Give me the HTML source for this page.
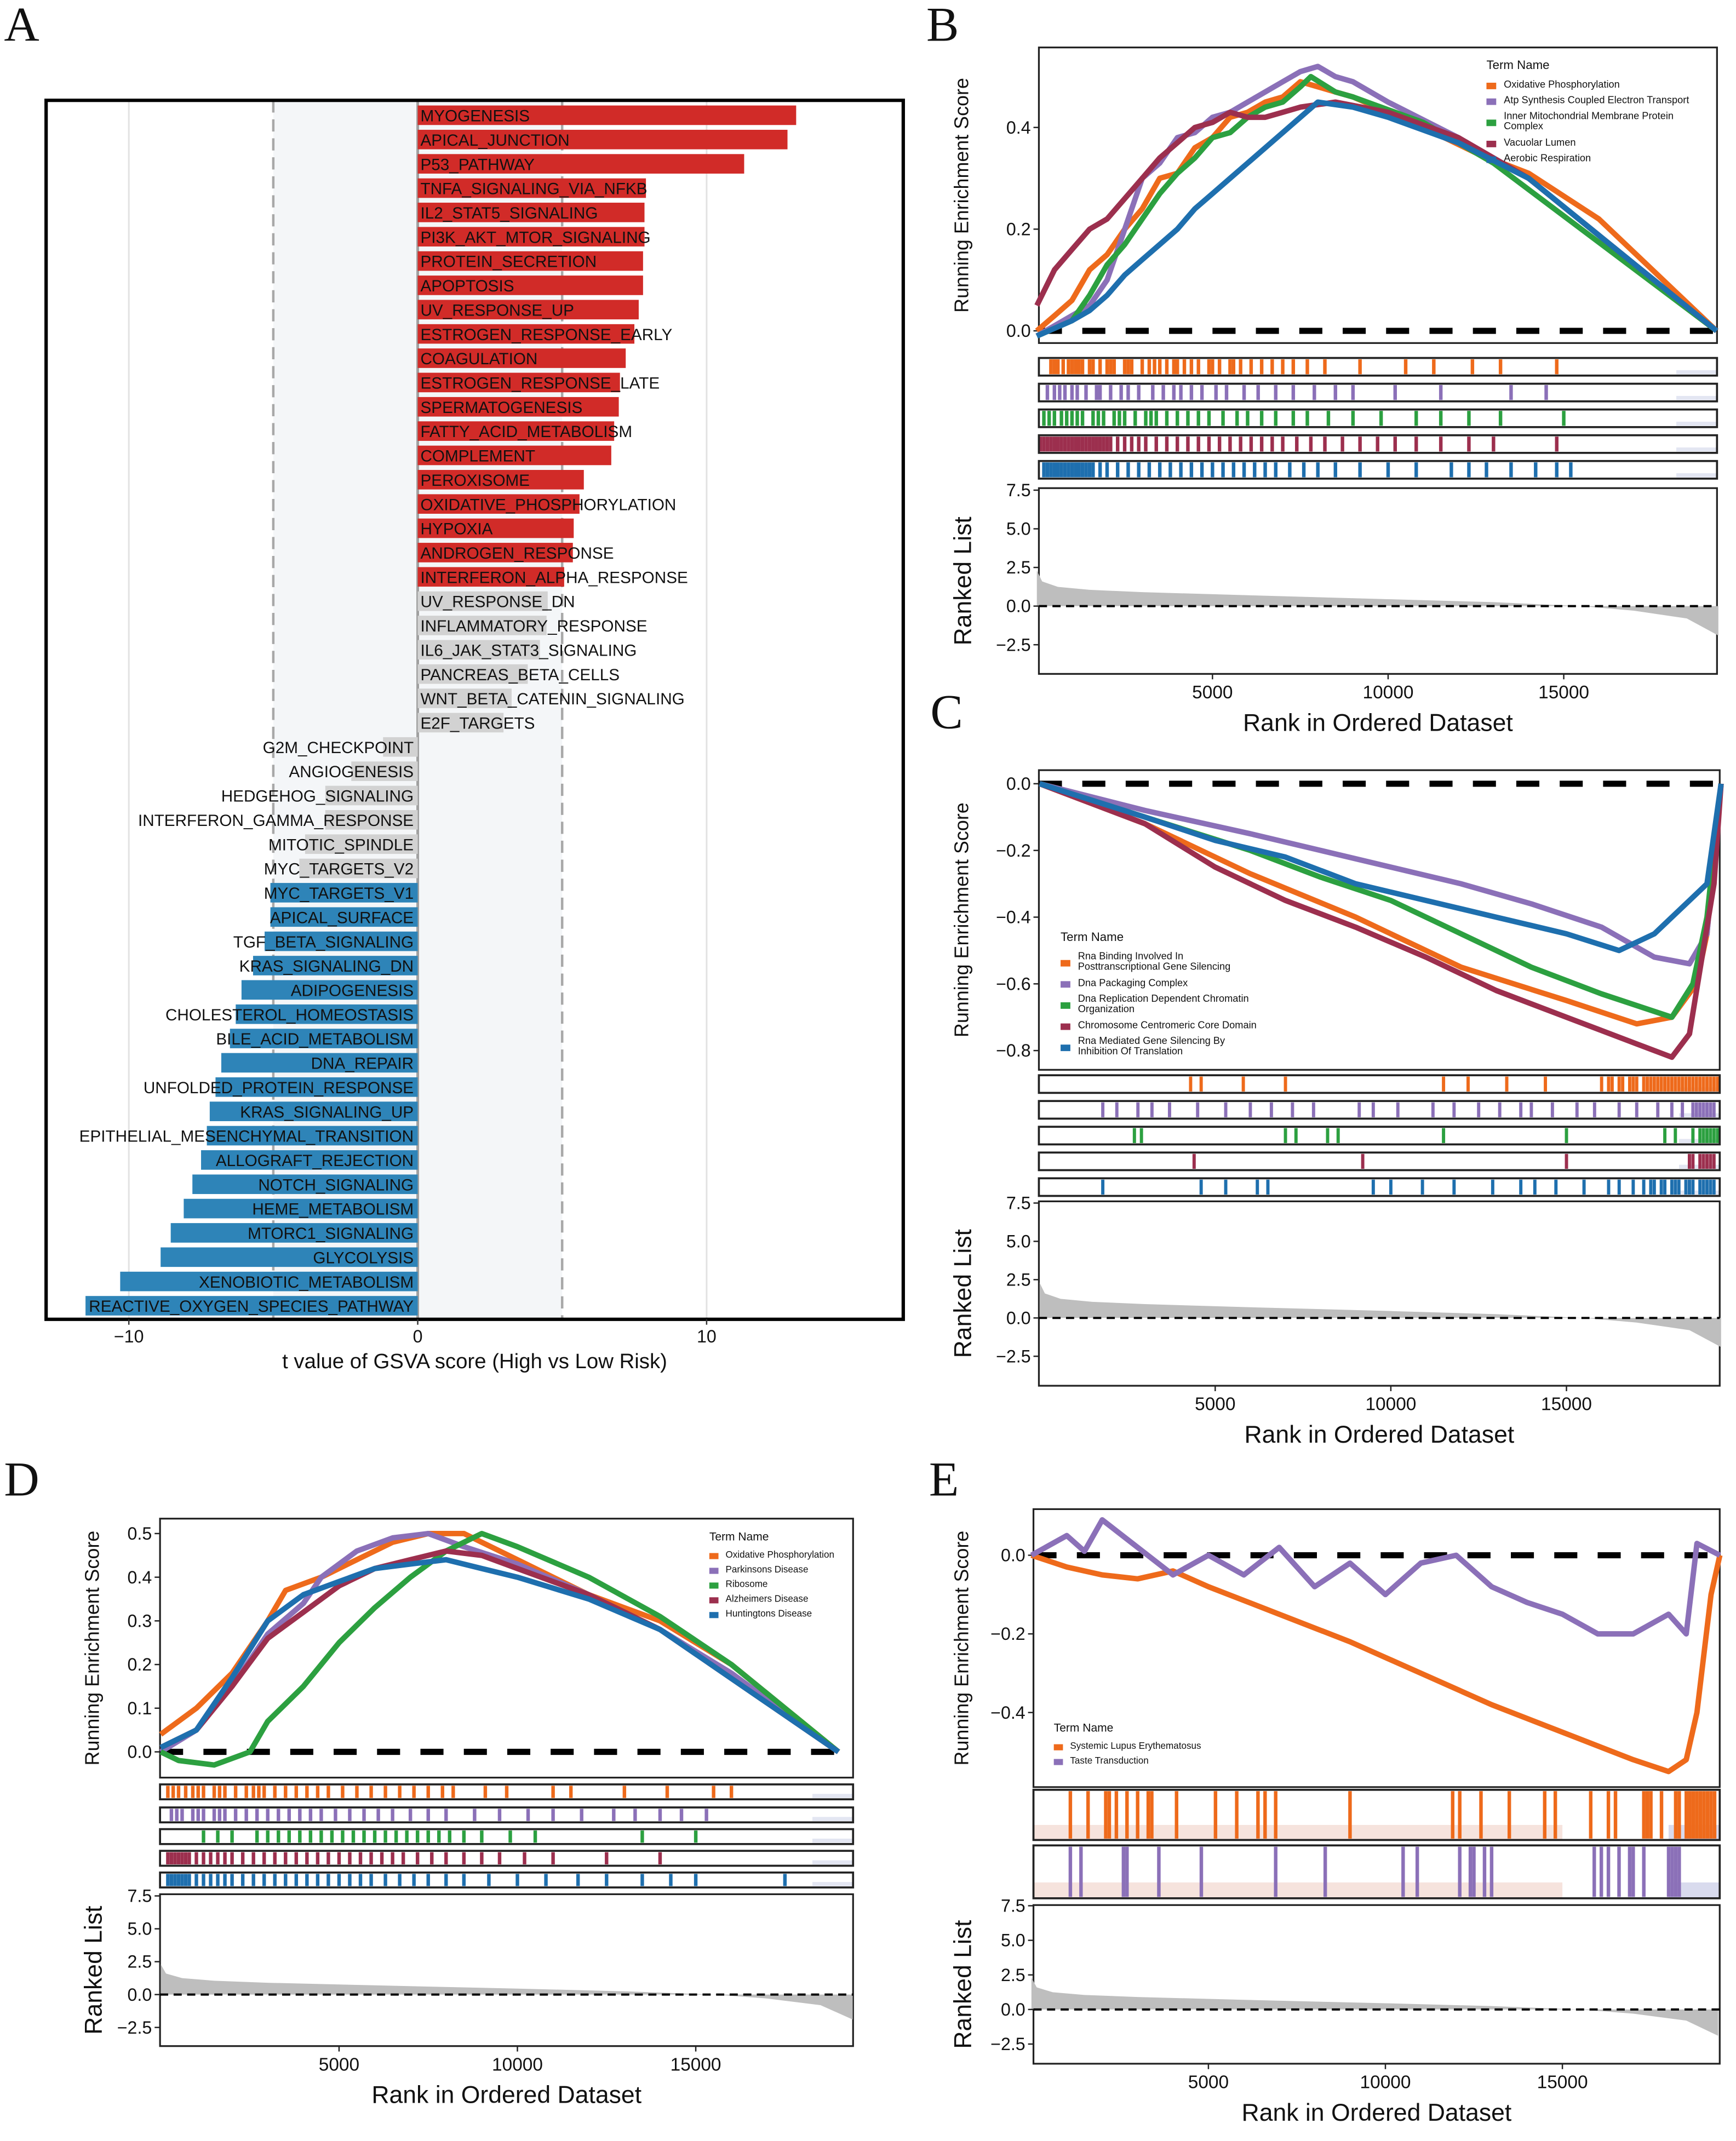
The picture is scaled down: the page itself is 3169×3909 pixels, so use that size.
<!DOCTYPE html>
<html><head><meta charset="utf-8"><style>
html,body{margin:0;padding:0;background:#fff}
svg{display:block}
text{font-family:"Liberation Sans",sans-serif;fill:#111}
</style></head><body>
<svg id="fig" xmlns="http://www.w3.org/2000/svg" width="3169" height="3909" viewBox="0 0 1280 1579" preserveAspectRatio="none"></svg>
<script>
// ---------- Panel A data ----------
const pathways = ["MYOGENESIS","APICAL_JUNCTION","P53_PATHWAY","TNFA_SIGNALING_VIA_NFKB","IL2_STAT5_SIGNALING","PI3K_AKT_MTOR_SIGNALING","PROTEIN_SECRETION","APOPTOSIS","UV_RESPONSE_UP","ESTROGEN_RESPONSE_EARLY","COAGULATION","ESTROGEN_RESPONSE_LATE","SPERMATOGENESIS","FATTY_ACID_METABOLISM","COMPLEMENT","PEROXISOME","OXIDATIVE_PHOSPHORYLATION","HYPOXIA","ANDROGEN_RESPONSE","INTERFERON_ALPHA_RESPONSE","UV_RESPONSE_DN","INFLAMMATORY_RESPONSE","IL6_JAK_STAT3_SIGNALING","PANCREAS_BETA_CELLS","WNT_BETA_CATENIN_SIGNALING","E2F_TARGETS","G2M_CHECKPOINT","ANGIOGENESIS","HEDGEHOG_SIGNALING","INTERFERON_GAMMA_RESPONSE","MITOTIC_SPINDLE","MYC_TARGETS_V2","MYC_TARGETS_V1","APICAL_SURFACE","TGF_BETA_SIGNALING","KRAS_SIGNALING_DN","ADIPOGENESIS","CHOLESTEROL_HOMEOSTASIS","BILE_ACID_METABOLISM","DNA_REPAIR","UNFOLDED_PROTEIN_RESPONSE","KRAS_SIGNALING_UP","EPITHELIAL_MESENCHYMAL_TRANSITION","ALLOGRAFT_REJECTION","NOTCH_SIGNALING","HEME_METABOLISM","MTORC1_SIGNALING","GLYCOLYSIS","XENOBIOTIC_METABOLISM","REACTIVE_OXYGEN_SPECIES_PATHWAY"];
const tValues = [13.1,12.8,11.3,7.9,7.85,7.85,7.8,7.8,7.65,7.5,7.2,7.0,6.96,6.8,6.7,5.75,5.6,5.4,5.37,5.07,4.5,4.46,4.23,3.81,3.25,2.97,-1.2,-2.3,-3.2,-3.2,-3.9,-4.1,-5.1,-5.1,-5.3,-5.7,-6.1,-6.3,-6.5,-6.8,-7.0,-7.2,-7.3,-7.5,-7.8,-8.1,-8.55,-8.9,-10.3,-11.5];
const tTicks = [-10,0,10];

// ---------- GSEA shared ranked list ----------
const rankPos = [0,150,600,1500,3000,6000,10000,13000,15500,17000,18500,19400];
const rankVal = [2.3,1.6,1.25,1.05,0.9,0.7,0.45,0.25,0,-0.3,-0.8,-1.9];
const rankTicks = [5000,10000,15000];
const rlTicks = [7.5,5.0,2.5,0.0,-2.5];

// ---------- Panel B ----------
const termsB = ["Oxidative Phosphorylation","Atp Synthesis Coupled Electron Transport","Inner Mitochondrial Membrane Protein|Complex","Vacuolar Lumen","Aerobic Respiration"];
const bR1=[0,500,1000,1500,2000,2500,3000,3500,4000,4500,5000,5500,6000,6500,7000,7500,8000,8500,9000,10000,11000,12500,14000,16000,19350], bE1=[0,0.03,0.06,0.12,0.15,0.2,0.24,0.3,0.31,0.36,0.38,0.42,0.43,0.45,0.46,0.49,0.48,0.47,0.46,0.43,0.4,0.35,0.31,0.22,0];
const bR2=[0,1000,1500,2000,2500,3000,3500,4000,4500,5000,5500,6000,6500,7000,7500,8000,8500,9000,10000,12000,14000,19350], bE2=[-0.01,0.03,0.05,0.1,0.2,0.3,0.33,0.38,0.39,0.42,0.43,0.45,0.47,0.49,0.51,0.52,0.5,0.49,0.45,0.38,0.3,0];
const bR3=[0,1000,1500,2000,2500,3000,3500,4000,4500,5000,5500,6000,6500,7000,7500,7800,8500,9000,11000,13000,19350], bE3=[-0.01,0.02,0.07,0.13,0.17,0.22,0.27,0.31,0.34,0.38,0.39,0.42,0.44,0.45,0.48,0.5,0.47,0.46,0.41,0.33,0];
const bR4=[0,500,1000,1500,2000,2500,3000,3500,4000,4500,5000,5500,6000,6500,7000,7500,8500,10000,12000,14000,19350], bE4=[0.05,0.12,0.16,0.2,0.22,0.26,0.3,0.34,0.37,0.4,0.41,0.43,0.42,0.42,0.43,0.44,0.45,0.43,0.38,0.3,0];
const bR5=[0,1000,1500,2000,2500,3000,3500,4000,4500,5000,5500,6000,6500,7000,7500,8000,9000,10000,12000,14000,19350], bE5=[-0.01,0.02,0.04,0.07,0.11,0.14,0.17,0.2,0.24,0.27,0.3,0.33,0.36,0.39,0.42,0.45,0.44,0.42,0.37,0.3,0];
const hB1=[400,500,600,750,900,1000,1100,1200,1300,1500,1600,1800,2000,2100,2200,2500,2600,2700,3000,3200,3350,3500,3700,3900,4000,4200,4400,4600,4900,5000,5200,5500,5600,5800,6100,6400,6700,7000,7300,7700,8200,9200,10500,11300,12400,13200,14800];
const hB2=[300,500,650,800,1000,1150,1400,1700,1800,2100,2400,2600,2900,3300,3600,3900,4100,4400,4700,5100,5400,5900,6300,6800,7300,7900,8500,9000,10200,11500,13500,14500];
const hB3=[200,350,500,700,850,1000,1150,1300,1600,1750,1900,2200,2350,2500,2800,3100,3250,3400,3700,4000,4300,4600,4900,5300,5700,6000,6400,6800,7300,7700,8300,9000,9800,10800,11500,12300,13200,15000];
const hB4=[100,200,300,400,500,600,700,800,900,1000,1100,1200,1300,1400,1500,1600,1700,1800,1900,2000,2100,2300,2500,2700,2900,3100,3400,3700,4000,4300,4600,4900,5200,5500,5800,6100,6400,6700,7000,7400,7800,8200,8700,9200,9700,10200,10800,11500,12300,13000,14800];
const hB5=[200,300,400,500,600,700,800,900,1000,1100,1200,1300,1400,1500,1600,1800,2000,2300,2600,2900,3200,3500,3800,4100,4400,4700,5000,5300,5600,5900,6200,6500,6800,7200,7600,8000,8500,9200,10000,10800,11800,12300,12800,13500,14200,14800,15200];
const esTicksB=[0.4,0.2,0.0];

// ---------- Panel C ----------
const termsC = ["Rna Binding Involved In|Posttranscriptional Gene Silencing","Dna Packaging Complex","Dna Replication Dependent Chromatin|Organization","Chromosome Centromeric Core Domain","Rna Mediated Gene Silencing By|Inhibition Of Translation"];
const cR1=[0,3000,6000,9000,12000,15000,17000,18000,18700,19000,19300,19400], cE1=[0,-0.12,-0.27,-0.4,-0.55,-0.65,-0.72,-0.7,-0.6,-0.45,-0.1,0];
const cR2=[0,3000,6000,8000,10000,12000,14000,16000,17500,18500,19000,19400], cE2=[0,-0.08,-0.15,-0.2,-0.25,-0.3,-0.36,-0.43,-0.52,-0.54,-0.45,0];
const cR3=[0,3000,6000,8000,10000,12000,14000,16000,18000,18600,19000,19400], cE3=[0,-0.1,-0.2,-0.28,-0.35,-0.45,-0.55,-0.63,-0.7,-0.6,-0.4,0];
const cR4=[0,3000,5000,7000,9000,11000,13000,15000,17000,18000,18500,19200,19400], cE4=[0,-0.12,-0.25,-0.35,-0.43,-0.52,-0.62,-0.7,-0.78,-0.82,-0.75,-0.3,0];
const cR5=[0,3000,5000,7000,9000,11000,13000,15000,16500,17500,18500,19000,19400], cE5=[0,-0.1,-0.17,-0.22,-0.3,-0.35,-0.4,-0.45,-0.5,-0.45,-0.35,-0.3,0];
const hC1=[4300,4600,5800,7000,11500,12200,13300,14400,16000,16200,16300,16500,16600,16800,16900,17000,17200,17300,17400,17500,17600,17700,17800,17900,18000,18100,18200,18300,18400,18500,18600,18700,18800,18900,19000,19100,19200,19300];
const hC2=[1800,2200,2800,3200,3700,4500,5300,6000,6600,7200,7800,9100,9500,10200,11200,11800,12500,13100,13700,14000,14600,15300,15800,16500,17000,17600,18000,18300,18600,18700,18800,18900,19000,19100,19200];
const hC3=[2700,2900,7000,7300,8200,8500,11500,15000,17800,18100,18600,18800,18900,19000,19100,19200,19300];
const hC4=[4400,9200,15000,18500,18600,18800,18900,19000,19100,19200];
const hC5=[1800,4600,5300,6200,6500,9500,10000,10900,11800,12900,13700,14100,14700,15500,16200,16500,16900,17200,17400,17500,17700,17800,18000,18100,18200,18400,18500,18600,18800,18900,19000,19100,19200];
const esTicksC=[0.0,-0.2,-0.4,-0.6,-0.8];

// ---------- Panel D ----------
const termsD = ["Oxidative Phosphorylation","Parkinsons Disease","Ribosome","Alzheimers Disease","Huntingtons Disease"];
const dR1=[0,1000,2000,3000,3500,4500,5500,6500,7500,8500,10000,12000,14000,16000,19000], dE1=[0.04,0.1,0.18,0.3,0.37,0.4,0.44,0.48,0.5,0.5,0.44,0.36,0.3,0.2,0];
const dR2=[0,1000,2000,3000,4000,4500,5500,6500,7500,8500,10000,12000,14000,16000,19000], dE2=[0,0.05,0.15,0.27,0.34,0.4,0.46,0.49,0.5,0.47,0.43,0.36,0.28,0.18,0];
const dR3=[0,500,1500,2500,3000,4000,5000,6000,7000,8000,9000,10000,12000,14000,16000,19000], dE3=[0,-0.02,-0.03,0,0.07,0.15,0.25,0.33,0.4,0.46,0.5,0.47,0.4,0.31,0.2,0];
const dR4=[0,1000,2000,3000,4000,5000,6000,7000,8000,9000,10000,12000,14000,19000], dE4=[0.01,0.05,0.15,0.26,0.32,0.38,0.42,0.44,0.46,0.45,0.42,0.36,0.28,0];
const dR5=[0,1000,2000,3000,4000,5000,6000,7000,8000,9000,10000,12000,14000,19000], dE5=[0.01,0.05,0.17,0.3,0.36,0.39,0.42,0.43,0.44,0.42,0.4,0.35,0.28,0];
const hD1=[200,350,500,700,900,1050,1200,1500,1650,1800,2100,2400,2600,2750,2900,3200,3500,3800,4100,4400,4700,5100,5500,5900,6300,6700,7100,7500,7900,8200,9100,9700,11000,11500,13000,14200,15500,16000];
const hD2=[300,450,600,900,1050,1200,1500,1650,1800,2100,2400,2700,3000,3300,3600,3900,4200,4500,4900,5300,5700,6100,6500,7000,7500,8000,8800,9500,10300,11000,11800,12700,13300,14000,14600,15300];
const hD3=[1200,1600,2000,2700,3000,3300,3600,3900,4200,4500,4800,5100,5400,5700,6000,6300,6600,6900,7200,7500,7800,8100,8500,9000,9800,10500,13500,15000];
const hD4=[200,300,400,500,600,700,800,1000,1200,1400,1600,1800,2000,2300,2600,2900,3200,3500,3800,4100,4400,4700,5000,5300,5600,5900,6200,6500,6800,7200,7600,8000,8500,9000,9500,10200,11000,12500,14000];
const hD5=[200,300,400,500,600,700,800,1000,1200,1400,1600,1800,2000,2300,2600,2900,3200,3500,3800,4100,4400,4700,5000,5300,5600,5900,6300,6700,7100,7500,8000,8500,9200,10000,10800,11700,12500,13500,14300,15000,17500];
const esTicksD=[0.5,0.4,0.3,0.2,0.1,0.0];

// ---------- Panel E ----------
const termsE = ["Systemic Lupus Erythematosus","Taste Transduction"];
const eR1=[0,1000,2000,3000,4000,5000,7000,9000,11000,13000,15000,17000,18000,18500,18800,19200,19450], eE1=[0,-0.03,-0.05,-0.06,-0.04,-0.08,-0.15,-0.22,-0.3,-0.38,-0.45,-0.52,-0.55,-0.52,-0.4,-0.1,0];
const eR2=[0,1000,1500,2000,3000,4000,5000,6000,7000,8000,9000,10000,11000,12000,13000,14000,15000,16000,17000,18000,18500,18800,19450], eE2=[0,0.05,0.01,0.09,0.02,-0.05,0,-0.05,0.02,-0.08,-0.02,-0.1,-0.02,0,-0.08,-0.12,-0.15,-0.2,-0.2,-0.15,-0.2,0.03,0];
const hE1=[1100,1600,2100,2200,2400,2700,3000,3300,3400,4100,5200,5800,6400,6600,6900,9000,11900,12100,12700,13500,14500,14800,15800,16300,16500,17300,17400,17500,17800,18200,18300,18500,18600,18700,18800,18900,19000,19100,19200,19300];
const hE2=[1100,1400,2600,2700,3600,4800,6900,8300,10500,10900,12100,12400,12500,12800,13000,15900,16100,16300,16600,16900,17000,17300,18000,18100,18200,18300];
const esTicksE=[0.0,-0.2,-0.4];

const COLS=["#EE6A1B","#8B70B8","#2CA040","#9C2F4E","#1E6FAE"];
const NS="http://www.w3.org/2000/svg";
const svg=document.getElementById('fig');
function mk(tag,attrs,parent){const e=document.createElementNS(NS,tag);for(const k in attrs)e.setAttribute(k,attrs[k]);(parent||svg).appendChild(e);return e;}
function txt(s,x,y,size,anchor,parent,extra){const e=mk('text',Object.assign({x:x,y:y,'font-size':size,'text-anchor':anchor||'start'},extra||{}),parent);e.textContent=s;return e;}

// ---------- Panel A ----------
(function(){
  const g=mk('g',{});
  
  
  const L=txt('A',3,30,36,'start',g,{style:'font-family:"Liberation Serif",serif'});
  
  
  const X0=34,X1=666,Y0=74,Y1=973;
  const xs=v=>308+v*21.3;
  const sh=mk('rect',{x:xs(-5),y:Y0,width:xs(5)-xs(-5),height:Y1-Y0,fill:'#F4F6F8'},g);
  
  
  tTicks.forEach(t=>{mk('line',{x1:xs(t),x2:xs(t),y1:Y0,y2:Y1,stroke:t===0?'#A0A0A0':'#E2E2E2','stroke-width':t===0?2:1.2},g);});
  [-5,5].forEach(t=>{const d=mk('line',{x1:xs(t),x2:xs(t),y1:Y0,y2:Y1,stroke:'#A8A8A8','stroke-width':1.8,'stroke-dasharray':'9,5'},g);
    
    });
  const step=(963-85)/(pathways.length-1);
  pathways.forEach((p,i)=>{
    const v=tValues[i],yc=85+i*step;
    const col=v>5?'#D12B28':(v<-5?'#2E84B8':'#D2D2D2');
    const b=mk('rect',{x:Math.min(xs(0),xs(v)),y:yc-7.2,width:Math.abs(xs(v)-xs(0)),height:14.4,fill:col},g);
    
    
    const t=v>=0?txt(p,310,yc+4.5,12,'start',g):txt(p,305,yc+4.5,12,'end',g);
    t.setAttribute('fill','#1b1b24');
    
    
  });
  const fr=mk('rect',{x:X0,y:Y0,width:X1-X0,height:Y1-Y0,fill:'none',stroke:'#000','stroke-width':2.5},g);
  
  
  tTicks.forEach(t=>{mk('line',{x1:xs(t),x2:xs(t),y1:Y1,y2:Y1+4,stroke:'#333','stroke-width':1},g);
    const tl=txt(String(t).replace('-','−'),xs(t),990,13,'middle',g);
    
    });
  const xl=txt('t value of GSVA score (High vs Low Risk)',350,1009,15.5,'middle',g);
  
  
})();

// ---------- GSEA panel builder ----------
function gsea(c){
  const g=mk('g',{});
  
  
  const L=txt(c.letter,c.lx,c.ly,36,'start',g,{style:'font-family:"Liberation Serif",serif'});
  
  
  const xr=r=>c.x0+r*c.k;
  const ye=v=>c.ey0-v*c.es;
  const fr=mk('rect',{x:c.bx0,y:c.ty0,width:c.bx1-c.bx0,height:c.ty1-c.ty0,fill:'#fff',stroke:'#222','stroke-width':1.3},g);
  
  
  c.esTicks.forEach(t=>{mk('line',{x1:c.bx0-4,x2:c.bx0,y1:ye(t),y2:ye(t),stroke:'#222'},g);
    const tl=txt(t.toFixed(1).replace('-','−'),c.bx0-6,ye(t)+4.5,13,'end',g);
    
    });
  const yl=txt('Running Enrichment Score',0,0,14.5,'middle',g,{transform:'translate('+c.ylx+','+((c.ty0+c.ty1)/2)+') rotate(-90)'});
  
  
  const z=mk('line',{x1:c.bx0,x2:c.bx1,y1:ye(0),y2:ye(0),stroke:'#000','stroke-width':4.5,'stroke-dasharray':'17,15'},g);
  
  
  c.curves.forEach((cv,i)=>{
    const pts=cv[0].map((r,j)=>xr(r).toFixed(1)+','+ye(cv[1][j]).toFixed(1)).join(' ');
    const p=mk('polyline',{points:pts,fill:'none',stroke:COLS[c.colIdx[i]],'stroke-width':4,'stroke-linejoin':'round'},g);
    
    
  });
  const lg=mk('g',{},g);
  
  
  txt('Term Name',c.legx,c.legy,c.lfs+1,'start',lg);
  let yy=c.legy+c.lfs*1.6;
  c.terms.forEach((t,i)=>{
    const lines=t.split('|');
    const h=lines.length*c.lfs;
    mk('rect',{x:c.legx,y:yy+h/2-c.lfs*0.35-c.lfs*0.5,width:c.lfs*0.9,height:c.lfs*0.6,fill:COLS[c.colIdx[i]]},lg);
    lines.forEach((ln,j)=>txt(ln,c.legx+c.lfs*1.6,yy+c.lfs*0.1+j*c.lfs*0.95,c.lfs*0.92,'start',lg));
    yy+=h+c.lfs*0.45;
  });
  c.rugs.forEach((ry,i)=>{
    const rg=mk('g',{},g);
    
    
    if(c.shade){
      mk('rect',{x:c.bx0,y:ry[1]-(ry[1]-ry[0])*0.3,width:xr(15000)-c.bx0,height:(ry[1]-ry[0])*0.3,fill:'#F6E3DD'},rg);
      mk('rect',{x:xr(18000),y:ry[1]-(ry[1]-ry[0])*0.3,width:c.bx1-xr(18000),height:(ry[1]-ry[0])*0.3,fill:'#D9DBEE'},rg);
    } else {
      mk('rect',{x:c.bx1-30,y:ry[1]-4,width:30,height:3,fill:'#E3E6F2'},rg);
    }
    c.hits[i].forEach(h=>{const l=mk('line',{x1:xr(h),x2:xr(h),y1:ry[0]+1,y2:ry[1]-1,stroke:COLS[c.colIdx[i]],'stroke-width':c.tw},rg);
      
      });
    mk('rect',{x:c.bx0,y:ry[0],width:c.bx1-c.bx0,height:ry[1]-ry[0],fill:'none',stroke:'#222','stroke-width':1.5},rg);
  });
  const yr=v=>c.r0-v*c.rs;
  const rf=mk('rect',{x:c.bx0,y:c.ry0,width:c.bx1-c.bx0,height:c.ry1-c.ry0,fill:'#fff',stroke:'#222','stroke-width':1.3},g);
  
  
  let d='M'+xr(rankPos[0])+','+yr(0);
  rankPos.forEach((r,j)=>{d+=' L'+xr(r).toFixed(1)+','+yr(rankVal[j]).toFixed(1);});
  d+=' L'+xr(rankPos[rankPos.length-1]).toFixed(1)+','+yr(0)+' Z';
  const a=mk('path',{d:d,fill:'#BEBEBE'},g);
  
  
  mk('line',{x1:c.bx0,x2:c.bx1,y1:yr(0),y2:yr(0),stroke:'#000','stroke-width':1.6,'stroke-dasharray':'6,4'},g);
  rlTicks.forEach(t=>{mk('line',{x1:c.bx0-4,x2:c.bx0,y1:yr(t),y2:yr(t),stroke:'#222'},g);
    const tl=txt(t.toFixed(1).replace('-','−'),c.bx0-6,yr(t)+4.5,13,'end',g);
    
    });
  rankTicks.forEach(t=>{mk('line',{x1:xr(t),x2:xr(t),y1:c.ry1,y2:c.ry1+4,stroke:'#222'},g);
    const tl=txt(String(t),xr(t),c.ry1+18,13.5,'middle',g);
    
    });
  const xl=txt('Rank in Ordered Dataset',(c.bx0+c.bx1)/2,c.ry1+42,18,'middle',g);
  
  
  const rl=txt('Ranked List',0,0,18,'middle',g,{transform:'translate('+(c.ylx+2)+','+((c.ry0+c.ry1)/2)+') rotate(-90)'});
  
  
}

gsea({name:'panel-b-gsea',letter:'B',lx:683,ly:30,bx0:766,bx1:1266,x0:764.5,k:0.0259,ty0:35,ty1:253,ey0:244,es:375,esTicks:esTicksB,ylx:714,
  curves:[[bR1,bE1],[bR2,bE2],[bR3,bE3],[bR4,bE4],[bR5,bE5]],colIdx:[0,1,2,3,4],terms:termsB,legx:1096,legy:51,lfs:8,
  rugs:[[264,277],[283,296],[302,315],[321,334],[340,353]],hits:[hB1,hB2,hB3,hB4,hB5],tw:2.6,
  ry0:360,ry1:497,r0:447,rs:11.4});
gsea({name:'panel-c-gsea',letter:'C',lx:686,ly:537,bx0:766,bx1:1268,x0:766.5,k:0.0259,ty0:568,ty1:789,ey0:578,es:246,esTicks:esTicksC,ylx:714,
  curves:[[cR1,cE1],[cR2,cE2],[cR3,cE3],[cR4,cE4],[cR5,cE5]],colIdx:[0,1,2,3,4],terms:termsC,legx:782,legy:694,lfs:8,
  rugs:[[793,806],[812,825],[831,844],[850,863],[869,882]],hits:[hC1,hC2,hC3,hC4,hC5],tw:2.4,
  ry0:886,ry1:1022,r0:972,rs:11.3});
gsea({name:'panel-d-gsea',letter:'D',lx:3,ly:1103,bx0:118,bx1:629,x0:118.5,k:0.0263,ty0:1120,ty1:1311,ey0:1292,es:322,esTicks:esTicksD,ylx:73,
  curves:[[dR1,dE1],[dR2,dE2],[dR3,dE3],[dR4,dE4],[dR5,dE5]],colIdx:[0,1,2,3,4],terms:termsD,legx:523,legy:1136,lfs:7.5,
  rugs:[[1316,1327],[1333,1344],[1349,1360],[1365,1376],[1381,1392]],hits:[hD1,hD2,hD3,hD4,hD5],tw:2.6,
  ry0:1397,ry1:1509,r0:1471,rs:9.7});
gsea({name:'panel-e-gsea',letter:'E',lx:685,ly:1103,bx0:762,bx1:1268,x0:760.5,k:0.0261,ty0:1113,ty1:1318,ey0:1147,es:290,esTicks:esTicksE,ylx:714,
  curves:[[eR1,eE1],[eR2,eE2]],colIdx:[0,1],terms:termsE,legx:777,legy:1277,lfs:7.5,shade:true,
  rugs:[[1320,1357],[1361,1400]],hits:[hE1,hE2],tw:2.6,
  ry0:1405,ry1:1522,r0:1482,rs:10.2});
</script>
</body></html>
